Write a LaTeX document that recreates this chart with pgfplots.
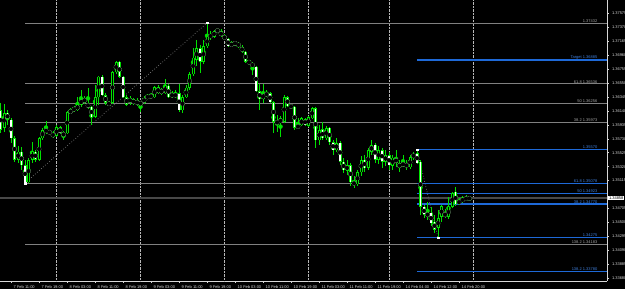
\documentclass[border=0pt]{standalone}
\usepackage{fontspec}
\setmainfont{Liberation Sans}
\usepackage{pgfplots}
\pgfplotsset{compat=1.18}
\usepackage{pgfplotstable}
\definecolor{cgreen}{RGB}{0,225,0}
\definecolor{fibgray}{RGB}{128,128,128}
\definecolor{fibblue}{RGB}{30,105,215}
\definecolor{bidgray}{RGB}{72,72,72}
\definecolor{lbl}{RGB}{215,215,215}
\newcommand{\mtfont}{\fontsize{4}{4.5}\selectfont}

\pgfplotstableread{
i o h l c
-16 1.3615 1.3626 1.3581 1.3586
-15 1.3589 1.3624 1.3583 1.3611
-14 1.3611 1.3615 1.3593 1.3601
-13 1.3601 1.3603 1.3567 1.3574
-12 1.3574 1.3577 1.3539 1.3542
-11 1.3542 1.3562 1.3537 1.3554
-10 1.3554 1.3561 1.3527 1.3534
-9 1.3534 1.3542 1.3508 1.3509
-8 1.3509 1.3545 1.3508 1.3542
-7 1.3542 1.3568 1.3537 1.3554
-6 1.3554 1.3556 1.3539 1.3542
-5 1.3542 1.3576 1.3540 1.3574
-4 1.3574 1.3589 1.3571 1.3586
-3 1.3584 1.3599 1.3580 1.3586
-2 1.3584 1.3586 1.3580 1.3581
-1 1.3581 1.3584 1.3574 1.3576
0 1.3577 1.3593 1.3576 1.3590
1 1.3590 1.3592 1.3580 1.3581
2 1.3576 1.3584 1.3571 1.3583
3 1.3581 1.3614 1.3580 1.3612
4 1.3611 1.3618 1.3609 1.3615
5 1.3615 1.3621 1.3612 1.3618
6 1.3615 1.3634 1.3614 1.3623
7 1.3623 1.3645 1.3620 1.3631
8 1.3633 1.3636 1.3624 1.3626
9 1.3626 1.3648 1.3617 1.3618
10 1.3620 1.3621 1.3593 1.3605
11 1.3605 1.3652 1.3603 1.3634
12 1.3634 1.3665 1.3623 1.3664
13 1.3664 1.3667 1.3636 1.3637
14 1.3637 1.3640 1.3623 1.3626
15 1.3626 1.3628 1.3621 1.3623
16 1.3626 1.3673 1.3624 1.3671
17 1.3671 1.3687 1.3668 1.3686
18 1.3686 1.3687 1.3662 1.3664
19 1.3664 1.3665 1.3633 1.3634
20 1.3634 1.3637 1.3621 1.3623
21 1.3626 1.3636 1.3623 1.3633
22 1.3631 1.3633 1.3623 1.3624
23 1.3623 1.3633 1.3621 1.3630
24 1.3627 1.3628 1.3612 1.3623
25 1.3626 1.3636 1.3624 1.3633
26 1.3633 1.3639 1.3631 1.3636
27 1.3634 1.3640 1.3633 1.3637
28 1.3634 1.3651 1.3633 1.3649
29 1.3640 1.3652 1.3639 1.3649
30 1.3640 1.3648 1.3637 1.3645
31 1.3640 1.3661 1.3639 1.3651
32 1.3651 1.3654 1.3633 1.3634
33 1.3634 1.3643 1.3633 1.3640
34 1.3634 1.3645 1.3633 1.3640
35 1.3640 1.3654 1.3612 1.3615
36 1.3615 1.3637 1.3611 1.3634
37 1.3634 1.3652 1.3633 1.3648
38 1.3648 1.3671 1.3645 1.3668
39 1.3668 1.3706 1.3665 1.3692
40 1.3689 1.3718 1.3680 1.3706
41 1.3706 1.3711 1.3670 1.3686
42 1.3686 1.3718 1.3683 1.3709
43 1.3709 1.3743 1.3706 1.3723
44 1.3723 1.3731 1.3718 1.3725
45 1.3723 1.3733 1.3721 1.3731
46 1.3733 1.3734 1.3729 1.3731
47 1.3731 1.3734 1.3723 1.3724
48 1.3724 1.3727 1.3718 1.3720
49 1.3720 1.3721 1.3708 1.3709
50 1.3709 1.3717 1.3708 1.3714
51 1.3712 1.3717 1.3709 1.3715
52 1.3714 1.3715 1.3706 1.3708
53 1.3708 1.3711 1.3699 1.3701
54 1.3701 1.3702 1.3684 1.3686
55 1.3687 1.3689 1.3683 1.3684
56 1.3684 1.3686 1.3667 1.3679
57 1.3679 1.3680 1.3642 1.3643
58 1.3643 1.3654 1.3615 1.3631
59 1.3631 1.3654 1.3626 1.3639
60 1.3637 1.3645 1.3634 1.3640
61 1.3640 1.3642 1.3626 1.3627
62 1.3627 1.3628 1.3581 1.3598
63 1.3596 1.3608 1.3583 1.3598
64 1.3596 1.3606 1.3576 1.3603
65 1.3598 1.3637 1.3596 1.3634
66 1.3634 1.3636 1.3620 1.3621
67 1.3621 1.3623 1.3618 1.3620
68 1.3620 1.3621 1.3586 1.3589
69 1.3589 1.3603 1.3587 1.3593
70 1.3593 1.3605 1.3592 1.3603
71 1.3602 1.3603 1.3592 1.3593
72 1.3592 1.3606 1.3590 1.3605
73 1.3603 1.3620 1.3602 1.3618
74 1.3618 1.3620 1.3559 1.3571
75 1.3571 1.3593 1.3564 1.3586
76 1.3586 1.3598 1.3571 1.3574
77 1.3574 1.3592 1.3571 1.3589
78 1.3589 1.3590 1.3564 1.3568
79 1.3568 1.3571 1.3549 1.3556
80 1.3556 1.3574 1.3554 1.3567
81 1.3567 1.3570 1.3534 1.3539
82 1.3539 1.3545 1.3523 1.3527
83 1.3526 1.3542 1.3520 1.3534
84 1.3534 1.3537 1.3504 1.3509
85 1.3509 1.3518 1.3501 1.3506
86 1.3506 1.3527 1.3504 1.3524
87 1.3524 1.3548 1.3518 1.3542
88 1.3542 1.3549 1.3524 1.3530
89 1.3530 1.3559 1.3527 1.3556
90 1.3554 1.3571 1.3549 1.3564
91 1.3564 1.3567 1.3537 1.3542
92 1.3542 1.3562 1.3536 1.3556
93 1.3556 1.3559 1.3530 1.3539
94 1.3539 1.3556 1.3533 1.3549
95 1.3549 1.3554 1.3527 1.3534
96 1.3533 1.3549 1.3527 1.3545
97 1.3545 1.3556 1.3531 1.3537
98 1.3530 1.3542 1.3524 1.3537
99 1.3537 1.3549 1.3531 1.3534
100 1.3537 1.3542 1.3527 1.3531
101 1.3531 1.3549 1.3529 1.3546
102 1.3545 1.3554 1.3542 1.3551
103 1.3552 1.3557 1.3536 1.3537
104 1.3539 1.3542 1.3461 1.3473
105 1.3473 1.3476 1.3456 1.3461
106 1.3458 1.3480 1.3454 1.3465
107 1.3464 1.3473 1.3445 1.3449
108 1.3451 1.3461 1.3434 1.3439
109 1.3442 1.3468 1.34275 1.3456
110 1.3458 1.3476 1.3451 1.3474
111 1.3464 1.3470 1.3456 1.3459
112 1.3458 1.3487 1.3455 1.3473
113 1.3473 1.3495 1.3471 1.3493
114 1.3495 1.3502 1.3474 1.3477
115 1.3479 1.3486 1.3476 1.3481
116 1.3480 1.3489 1.3479 1.3486
117 1.3483 1.3490 1.3481 1.3487
118 1.3485 1.3487 1.3484 1.3486
}\candles

\begin{document}
\begin{tikzpicture}
\fill[black] (0,0) rectangle (625bp,289bp);
\useasboundingbox (0,0) rectangle (625bp,289bp);
\begin{axis}[
  at={(0,8bp)}, anchor=south west,
  width=607bp, height=281bp, scale only axis,
  xmin=-16.142857, xmax=157.2857, ymin=1.33639, ymax=1.3777,
  clip mode=individual,
  axis x line=bottom, axis y line=right,
  axis line style={-, lbl, line width=0.8bp},
  tick align=outside, major tick length=2bp,
  tick style={lbl, line width=0.5bp},
  tick label style={font=\mtfont, text=lbl},
  /pgf/number format/assume math mode=true,
  scaled y ticks=false,
  yticklabel style={/pgf/number format/fixed, /pgf/number format/fixed zerofill, /pgf/number format/precision=5, xshift=-0.5bp},
  ytick={1.37575,1.37370,1.37165,1.36960,1.36755,1.36550,1.36345,1.36140,1.35935,1.35730,1.35525,1.35320,1.35115,1.34705,1.34500,1.34295,1.34090,1.33885,1.33680},
  xtick={-13,-5,3,11,19,27,35,43,51,59,67,75,83,91,99,107,115},
  xticklabels={7 Feb 11:00, 7 Feb 19:00, 8 Feb 03:00, 8 Feb 11:00, 8 Feb 19:00, 9 Feb 03:00, 9 Feb 11:00, 9 Feb 19:00, 10 Feb 03:00, 10 Feb 11:00, 10 Feb 19:00, 11 Feb 03:00, 11 Feb 11:00, 11 Feb 19:00, 14 Feb 04:00, 14 Feb 12:00, 14 Feb 20:00},
  xticklabel style={anchor=north west, xshift=-0.8bp, yshift=0.6bp},
  extra x ticks={0,24,48,72,95,119},
  extra x tick labels={},
  extra x tick style={grid=major, major grid style={lbl!85!black, densely dotted, line width=0.6bp}, major tick length=0pt},
]
% bid line
\addplot[bidgray, line width=1.3bp, forget plot] coordinates {(-16.2,1.34858) (157.3,1.34858)};
% gray fibonacci levels
\addplot[fibgray, line width=0.9bp, forget plot] coordinates {(-9,1.37432) (157.3,1.37432)};
\addplot[fibgray, line width=0.9bp, forget plot] coordinates {(-9,1.36536) (157.3,1.36536)};
\addplot[fibgray, line width=0.9bp, forget plot] coordinates {(-9,1.36256) (157.3,1.36256)};
\addplot[fibgray, line width=0.9bp, forget plot] coordinates {(-9,1.35977) (157.3,1.35977)};
\addplot[fibgray, line width=0.9bp, forget plot] coordinates {(-9,1.35079) (157.3,1.35079)};
\addplot[fibgray, line width=0.9bp, forget plot] coordinates {(-9,1.34183) (157.3,1.34183)};
% blue levels
\addplot[fibblue, line width=1.2bp, forget plot] coordinates {(103,1.36888) (157.3,1.36888)};
\addplot[fibblue, line width=1.2bp, forget plot] coordinates {(103,1.35570) (157.3,1.35570)};
\addplot[fibblue, line width=1.2bp, forget plot] coordinates {(103,1.35078) (157.3,1.35078)};
\addplot[fibblue, line width=1.2bp, forget plot] coordinates {(103,1.34923) (157.3,1.34923)};
\addplot[fibblue, line width=1.2bp, forget plot] coordinates {(103,1.34770) (157.3,1.34770)};
\addplot[fibblue, line width=1.2bp, forget plot] coordinates {(103,1.34275) (157.3,1.34275)};
\addplot[fibblue, line width=1.2bp, forget plot] coordinates {(103,1.33780) (157.3,1.33780)};
% trend lines
\addplot[fibgray, dotted, line width=0.7bp, forget plot] coordinates {(-9,1.35079) (43,1.37432)};
\addplot[fibgray, dotted, line width=0.7bp, forget plot] coordinates {(103,1.35570) (109,1.34275)};
% wicks
\addplot[cgreen, only marks, mark=none, forget plot,
  error bars/.cd, y dir=both, y explicit, error mark=none,
  error bar style={line width=0.9bp, solid, cgreen}]
  table[x=i, y expr={(\thisrow{h}+\thisrow{l})/2}, y error expr={(\thisrow{h}-\thisrow{l})/2}] {\candles};
% bodies
\addplot[cgreen, only marks, mark=none, forget plot,
  error bars/.cd, y dir=both, y explicit, error mark=none,
  error bar style={line width=3.0bp, solid, cgreen}]
  table[x=i, y expr={(\thisrow{o}+\thisrow{c})/2}, y error expr={max(abs(\thisrow{c}-\thisrow{o})/2,0.00004)}] {\candles};
\addplot[white, only marks, mark=none, forget plot,
  error bars/.cd, y dir=both, y explicit, error mark=none,
  error bar style={line width=1.8bp, solid, white}]
  table[x=i, y expr={(\thisrow{o}+\thisrow{c})/2}, y error expr={max((\thisrow{o}-\thisrow{c})/2-0.00007,0)}] {\candles};
\addplot[black, only marks, mark=none, forget plot,
  error bars/.cd, y dir=both, y explicit, error mark=none,
  error bar style={line width=0.9bp, solid, black}]
  table[x=i, y expr={(\thisrow{o}+\thisrow{c})/2}, y error expr={max((\thisrow{c}-\thisrow{o})/2-0.00009,0)}] {\candles};
% anchor points
\addplot[only marks, mark=square*, mark size=0.7bp, white, forget plot] coordinates {(-9,1.35079) (43,1.37432) (103,1.35570) (109,1.34275)};
% level labels
\begin{scope}[every node/.style={anchor=south east, font=\mtfont, inner sep=0.5bp}]
\node[text=fibgray!70!white] at (axis cs:154.7,1.37432) {1.37432};
\node[text=fibgray!70!white] at (axis cs:154.7,1.36536) {61.8 1.36536};
\node[text=fibgray!70!white] at (axis cs:154.7,1.36256) {50 1.36256};
\node[text=fibgray!70!white] at (axis cs:154.7,1.35977) {38.2 1.35973};
\node[text=fibgray!70!white] at (axis cs:154.7,1.34183) {138.2 1.34183};
\node[text=fibblue!85!white] at (axis cs:154.7,1.36888) {Target 1.36885};
\node[text=fibblue!85!white] at (axis cs:154.7,1.35570) {1.35570};
\node[text=fibblue!85!white] at (axis cs:154.7,1.35078) {61.8 1.35078};
\node[text=fibblue!85!white] at (axis cs:154.7,1.34923) {50 1.34923};
\node[text=fibblue!85!white] at (axis cs:154.7,1.34770) {38.2 1.34770};
\node[text=fibblue!85!white] at (axis cs:154.7,1.34275) {1.34275};
\node[text=fibblue!85!white] at (axis cs:154.7,1.33780) {138.2 1.33780};
\end{scope}
\node[anchor=west, fill=white, text=black, font=\mtfont, inner sep=0.6bp, xshift=1.2bp] at (axis cs:157.2857,1.34858) {1.34858};
\end{axis}
\end{tikzpicture}
\end{document}
